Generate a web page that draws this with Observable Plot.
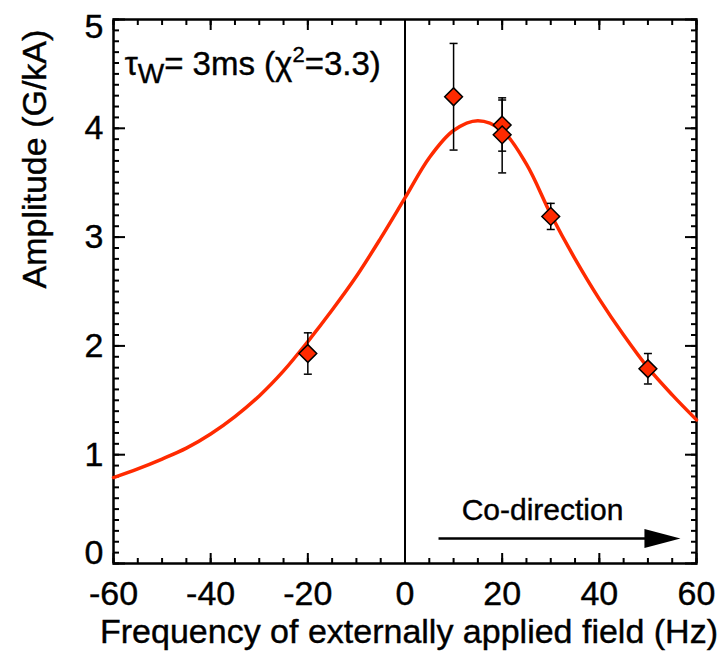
<!DOCTYPE html>
<html>
<head>
<meta charset="utf-8">
<script src="https://cdn.jsdelivr.net/npm/d3@7"></script>
<script src="https://cdn.jsdelivr.net/npm/@observablehq/plot@0.6"></script>
<style>
  html, body { margin: 0; padding: 0; background: #fff; }
  svg { display: block; }
</style>
</head>
<body>
<div id="chart"></div>
<script>
// Measured data points (frequency in Hz, amplitude in G/kA)
const freq  = [-20, 10, 20, 20, 30, 50];
const amp   = [1.93, 4.29, 4.03, 3.94, 3.19, 1.79];
const errLo = [1.74, 3.80, 3.79, 3.59, 3.07, 1.65];
const errHi = [2.12, 4.78, 4.28, 4.26, 3.31, 1.93];

// Fitted curve
const fitF = [-60, -55, -50, -45, -40, -35, -30, -25, -20, -15, -10, -5, 0, 5, 10, 15, 20, 25, 30, 35, 40, 45, 50, 55, 60];
const fitA = [0.79, 0.87, 0.96, 1.06, 1.19, 1.35, 1.54, 1.77, 2.04, 2.33, 2.64, 2.99, 3.36, 3.73, 3.98, 4.07, 3.98, 3.67, 3.21, 2.80, 2.43, 2.10, 1.80, 1.55, 1.32];

// Tick labels
const xTicks = [-60, -40, -20, 0, 20, 40, 60];
const yTicks = [0, 1, 2, 3, 4, 5];

const xLabel = "Frequency of externally applied field (Hz)";
const yLabel = "Amplitude (G/kA)";
const arrowText = "Co-direction";

const points = freq.map((f, i) => ({f, a: amp[i], lo: errLo[i], hi: errHi[i]}));
const fit = fitF.map((f, i) => ({f, a: fitA[i]}));

const xMinor = d3.range(-60, 60.001, 5);
const yMinor = d3.range(0, 50.001, 1).map(v => v / 10);

const RED = "#ff2a00";
const FONT = "'Liberation Sans', Arial, Helvetica, sans-serif";
const fmt = d => (d < 0 ? "-" + (-d) : String(d));

const capSymbol = { draw(ctx) { ctx.moveTo(-4, 0); ctx.lineTo(4, 0); } };
const headSymbol = { draw(ctx) { ctx.moveTo(-36, -9.5); ctx.lineTo(0, 0); ctx.lineTo(-36, 9.5); ctx.closePath(); } };

const titleMark = (index, scales) => {
  const t = d3.create("svg:text")
    .attr("x", scales.x(-57.6))
    .attr("y", scales.y(4.485))
    .attr("text-anchor", "start")
    .attr("font-size", 33)
    .attr("font-family", FONT)
    .attr("fill", "black");
  t.append("tspan").text("\u03C4");
  t.append("tspan").attr("font-size", 28).attr("dy", 8).text("W");
  t.append("tspan").attr("dy", -8).text("= 3ms (\u03C7");
  t.append("tspan").attr("font-size", 22).attr("dy", -13).text("2");
  t.append("tspan").attr("dy", 13).text("=3.3)");
  return t.node();
};

const chart = Plot.plot({
  width: 725,
  height: 666,
  marginLeft: 113,
  marginRight: 29,
  marginTop: 19,
  marginBottom: 103,
  style: { fontFamily: FONT, background: "white", overflow: "visible" },
  x: { domain: [-60, 60] },
  y: { domain: [0, 5] },
  marks: [
    // minor & major ticks on all four sides (inward)
    Plot.axisX(xMinor, { anchor: "bottom", tickSize: -5, text: null, strokeWidth: 2, label: null }),
    Plot.axisX(xTicks, { anchor: "bottom", tickSize: -10, text: null, strokeWidth: 2, label: null }),
    Plot.axisX(xMinor, { anchor: "top", tickSize: -5, text: null, strokeWidth: 2, label: null }),
    Plot.axisX(xTicks, { anchor: "top", tickSize: -10, text: null, strokeWidth: 2, label: null }),
    Plot.axisY(yMinor, { anchor: "left", tickSize: -6, text: null, strokeWidth: 2, label: null }),
    Plot.axisY(yTicks, { anchor: "left", tickSize: -12, text: null, strokeWidth: 2, label: null }),
    Plot.axisY(yMinor, { anchor: "right", tickSize: -6, text: null, strokeWidth: 2, label: null }),
    Plot.axisY(yTicks, { anchor: "right", tickSize: -12, text: null, strokeWidth: 2, label: null }),
    // tick labels
    Plot.axisX(xTicks, { anchor: "bottom", tickSize: 0, tickPadding: 17, fontSize: 34, label: null, tickFormat: fmt }),
    Plot.axisY(yTicks.slice(1, 5), { anchor: "left", tickSize: 0, tickPadding: 10, fontSize: 34, label: null, tickFormat: fmt }),
    Plot.axisY([yTicks[0]], { anchor: "left", tickSize: 0, tickPadding: 10, fontSize: 34, label: null, dy: -10, tickFormat: fmt }),
    Plot.axisY([yTicks[5]], { anchor: "left", tickSize: 0, tickPadding: 10, fontSize: 34, label: null, dy: 8, tickFormat: fmt }),
    // axis titles
    Plot.text([xLabel], { frameAnchor: "bottom", dy: 79, dx: 4, fontSize: 34 }),
    Plot.text([yLabel], { frameAnchor: "left", rotate: -90, dx: -78, dy: -3, fontSize: 34 }),
    Plot.frame({ stroke: "black", strokeWidth: 2.5 }),
    // zero line
    Plot.ruleX([0], { y1: 0, y2: 5, stroke: "black", strokeWidth: 2 }),
    // fitted curve
    Plot.line(fit, { x: "f", y: "a", stroke: RED, strokeWidth: 3.5, curve: "catmull-rom" }),
    // error bars
    Plot.ruleX(points, { x: "f", y1: "lo", y2: "hi", stroke: "black", strokeWidth: 1.5 }),
    Plot.dot(points, { x: "f", y: "lo", symbol: capSymbol, stroke: "black", strokeWidth: 1.5, fill: "none" }),
    Plot.dot(points, { x: "f", y: "hi", symbol: capSymbol, stroke: "black", strokeWidth: 1.5, fill: "none" }),
    // data points
    Plot.dot(points, { x: "f", y: "a", symbol: "diamond2", r: 8, fill: RED, stroke: "black", strokeWidth: 1.5 }),
    // co-direction arrow
    Plot.text([arrowText], { x: 28.3, y: 0.49, fontSize: 30 }),
    Plot.link([0], { x1: 6.9, x2: 52, y1: 0.23, y2: 0.23, stroke: "black", strokeWidth: 2.5 }),
    Plot.dot([0], { x: 56.7, y: 0.23, symbol: headSymbol, fill: "black", stroke: "none" }),
    // tau label
    titleMark
  ]
});

d3.select(chart).selectAll("text")
  .attr("fill", "black")
  .attr("stroke", "black")
  .attr("stroke-width", 0.4);
document.getElementById("chart").appendChild(chart);
</script>
</body>
</html>
